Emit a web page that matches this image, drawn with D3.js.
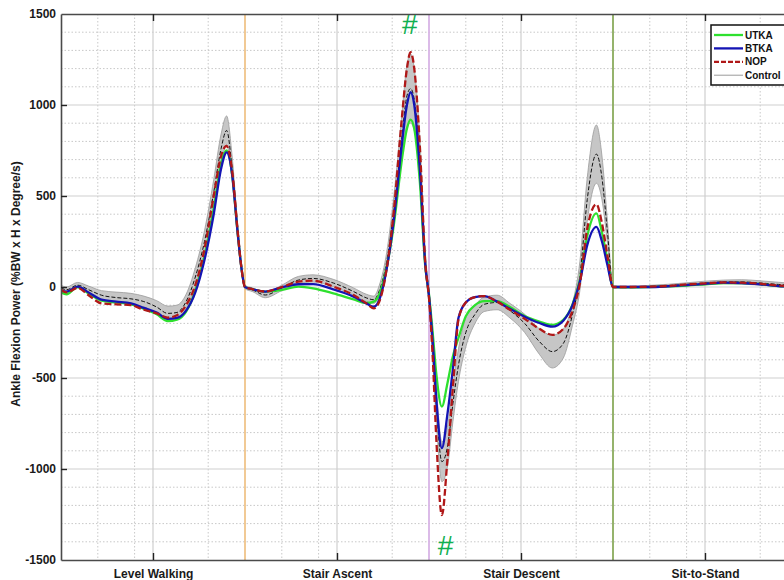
<!DOCTYPE html>
<html><head><meta charset="utf-8">
<script src="https://cdn.jsdelivr.net/npm/d3@7"></script>
<style>
body{margin:0;background:#fff}
svg{display:block}
text{font-family:"Liberation Sans",Arial,sans-serif}
</style>
</head><body>
<svg id="c" width="784" height="580"></svg>
<script>
// ---- data (x in % of concatenated task cycles, 0-400) ----
const xs = [0,3,9,15,22,30,38,45,52,58,63,68,73,78,83,87,90,93,96,98,
  100,104,111,120,129,137,148,159,166,170,173,177,181,185,188,190,192,195,198,
  200,202,204,207,210,213,216,220,225,230,237,244,252,260,267,273,278,282,286,291,294,297,
  300,310,320,330,340,350,360,370,380,390,400];
const utka = [-30,-40,0,-35,-75,-85,-95,-120,-150,-188,-180,-135,-20,170,430,680,750,620,300,110,
  0,-12,-25,-16,2,-7,-35,-68,-88,-80,-40,110,350,680,870,920,870,580,110,
  -40,-250,-480,-657,-530,-380,-280,-160,-100,-78,-78,-110,-160,-190,-208,-180,-95,40,280,405,300,150,
  0,-2,0,3,8,15,22,22,16,5,0];
const btka = [-20,-25,2,-30,-70,-80,-90,-115,-140,-175,-170,-130,-30,150,400,650,740,620,300,110,
  0,-12,-25,-2,15,16,-13,-53,-90,-108,-70,100,380,760,1000,1070,1000,650,120,
  -50,-300,-620,-885,-700,-450,-170,-85,-55,-50,-80,-120,-163,-198,-218,-185,-100,30,230,330,250,120,
  0,0,0,4,10,17,24,22,15,5,0];
const nop = [-15,-30,-5,-45,-90,-95,-100,-125,-145,-168,-155,-100,10,210,500,720,775,640,310,110,
  0,-12,-25,0,29,35,2,-44,-90,-117,-80,100,430,900,1200,1290,1200,780,130,
  -60,-380,-840,-1253,-950,-550,-180,-85,-55,-50,-80,-125,-175,-230,-263,-230,-130,20,320,455,350,170,
  0,0,2,6,14,20,25,24,18,8,2];
const controlMean = [-5,-15,10,-15,-45,-58,-65,-80,-110,-145,-140,-80,55,250,520,760,860,650,300,110,
  0,-15,-44,-5,38,47,22,-25,-60,-70,-20,140,430,800,1050,1090,1030,700,140,
  -60,-330,-650,-960,-880,-640,-430,-250,-150,-95,-85,-130,-200,-300,-355,-310,-150,60,480,730,600,300,
  0,0,3,8,15,22,28,28,22,14,6];
const controlSD = [15,15,15,20,25,30,30,30,35,40,40,40,50,60,70,80,80,70,40,20,
  10,10,15,15,20,20,20,20,20,20,30,50,80,120,170,190,170,120,50,
  40,80,100,110,110,100,90,80,50,40,40,40,50,70,90,80,60,80,120,160,120,60,
  5,5,6,7,8,10,10,12,12,12,12];
const taskLabels = ["Level Walking","Stair Ascent","Stair Descent","Sit-to-Stand"];
const taskCenters = [50,150,250,350];
const taskBounds = [100,200,300];
const boundColors = ["#f0c48a","#d8b4e6","#8aab5c"];
const yTicks = [-1500,-1000,-500,0,500,1000,1500];
const yMinor = [-1400,-1300,-1200,-1100,-900,-800,-700,-600,-400,-300,-200,-100,100,200,300,400,600,700,800,900,1100,1200,1300,1400];
const xMinor = [20,40,80,120,140,180,220,240,280,320,340,380];
const legendNames = ["UTKA","BTKA","NOP","Control"];
const marks = [{x:189.5,y:1390},{x:209,y:-1470}];

// ---- layout ----
const L=61, T=14, W=736, H=546;
const svg = d3.select("#c");
const x = d3.scaleLinear([0,400],[L,L+W]);
const y = d3.scaleLinear([-1500,1500],[T+H,T]);

svg.append("clipPath").attr("id","clip").append("rect")
  .attr("x",L).attr("y",T).attr("width",W).attr("height",H);

const grid = svg.append("g");
grid.selectAll(".hm").data(yMinor).join("line")
  .attr("x1",L).attr("x2",L+W).attr("y1",d=>y(d)).attr("y2",d=>y(d))
  .attr("stroke","#c8c8c8").attr("stroke-width",1).attr("stroke-dasharray","1.5,2");
grid.selectAll(".vm").data(xMinor).join("line")
  .attr("y1",T).attr("y2",T+H).attr("x1",d=>x(d)).attr("x2",d=>x(d))
  .attr("stroke","#c8c8c8").attr("stroke-width",1).attr("stroke-dasharray","1.5,2");
grid.selectAll(".hM").data(yTicks.slice(1,-1)).join("line")
  .attr("x1",L).attr("x2",L+W).attr("y1",d=>y(d)).attr("y2",d=>y(d))
  .attr("stroke","#cfcfcf").attr("stroke-width",1.2);
grid.selectAll(".vM").data(taskCenters).join("line")
  .attr("y1",T).attr("y2",T+H).attr("x1",d=>x(d)).attr("x2",d=>x(d))
  .attr("stroke","#cfcfcf").attr("stroke-width",1.2);
grid.selectAll(".vb").data(taskBounds).join("line")
  .attr("y1",T).attr("y2",T+H).attr("x1",d=>x(d)).attr("x2",d=>x(d))
  .attr("stroke",(d,i)=>boundColors[i]).attr("stroke-width",1.8);

const pts = xs.map((xv,i)=>i);
const plot = svg.append("g").attr("clip-path","url(#clip)");
const area = d3.area().x(i=>x(xs[i])).y0(i=>y(controlMean[i]-controlSD[i])).y1(i=>y(controlMean[i]+controlSD[i])).curve(d3.curveMonotoneX);
plot.append("path").attr("d",area(pts)).attr("fill","#c6c6c6").attr("stroke","none");
const band = (sgn)=>d3.line().x(i=>x(xs[i])).y(i=>y(controlMean[i]+sgn*controlSD[i])).curve(d3.curveMonotoneX);
[1,-1].forEach(s=>plot.append("path").attr("d",band(s)(pts)).attr("fill","none").attr("stroke","#9a9a9a").attr("stroke-width",0.8));
const lineOf = arr => d3.line().x(i=>x(xs[i])).y(i=>y(arr[i])).curve(d3.curveMonotoneX)(pts);
plot.append("path").attr("d",lineOf(controlMean)).attr("fill","none").attr("stroke","#111").attr("stroke-width",1).attr("stroke-dasharray","4,2");
plot.append("path").attr("d",lineOf(utka)).attr("fill","none").attr("stroke","#2ee02e").attr("stroke-width",2.3);
plot.append("path").attr("d",lineOf(btka)).attr("fill","none").attr("stroke","#1414b4").attr("stroke-width",2.3);
plot.append("path").attr("d",lineOf(nop)).attr("fill","none").attr("stroke","#b01818").attr("stroke-width",2.3).attr("stroke-dasharray","7,3");

// axes
const yAxis = d3.axisLeft(y).tickValues(yTicks).tickSize(-6).tickSizeOuter(0).tickPadding(5).tickFormat(d=>String(d));
const ga = svg.append("g").attr("transform",`translate(${L},0)`).call(yAxis);
const xAxis = d3.axisBottom(x).tickValues(taskCenters).tickSize(-7).tickSizeOuter(0).tickPadding(9).tickFormat((d,i)=>taskLabels[i]);
const gb = svg.append("g").attr("transform",`translate(0,${T+H})`).call(xAxis);
const xTop = d3.axisTop(x).tickValues(taskCenters).tickSize(-7).tickSizeOuter(0).tickFormat("");
const gt = svg.append("g").attr("transform",`translate(0,${T})`).call(xTop);
[ga,gb,gt].forEach(g=>{
  g.select(".domain").attr("stroke","#4a4a4a").attr("stroke-width",1.6);
  g.selectAll(".tick line").attr("stroke","#222").attr("stroke-width",1.4);
  g.selectAll("text").attr("font-size",12).attr("font-weight","bold").attr("fill","#1a1a1a")
   .attr("font-family","'Liberation Sans',Arial,sans-serif");
});
ga.selectAll(".tick").filter(d=>d===1500||d===-1500).select("line").remove();

svg.append("text").attr("transform",`translate(20,${T+H/2 - 3}) rotate(-90)`)
  .attr("text-anchor","middle").attr("font-size",12).attr("font-weight","bold").attr("fill","#1a1a1a")
  .text("Ankle Flexion Power (%BW x H x Degree/s)");

// significance marks
svg.selectAll(".mk").data(marks).join("text")
  .attr("x",d=>x(d.x)).attr("y",d=>y(d.y)).attr("text-anchor","middle")
  .attr("font-size",28).attr("fill","#10b050").text("#");

// legend
const lg = svg.append("g");
lg.append("rect").attr("x",711).attr("y",25).attr("width",90).attr("height",60)
  .attr("fill","#fff").attr("stroke","#111").attr("stroke-width",1.5);
const lstyle = [
  {c:"#2ee02e",w:2.3,d:null},{c:"#1414b4",w:2.3,d:null},{c:"#b01818",w:2.3,d:"5,2"},{c:"#9a9a9a",w:1,d:null}];
legendNames.forEach((n,i)=>{
  const yy = 35 + i*13.4;
  lg.append("line").attr("x1",714).attr("x2",743).attr("y1",yy).attr("y2",yy)
    .attr("stroke",lstyle[i].c).attr("stroke-width",lstyle[i].w).attr("stroke-dasharray",lstyle[i].d);
  lg.append("text").attr("x",745).attr("y",yy+3.6).attr("font-size",10).attr("font-weight","bold")
    .attr("fill","#111").text(n);
});
</script>
</body></html>
